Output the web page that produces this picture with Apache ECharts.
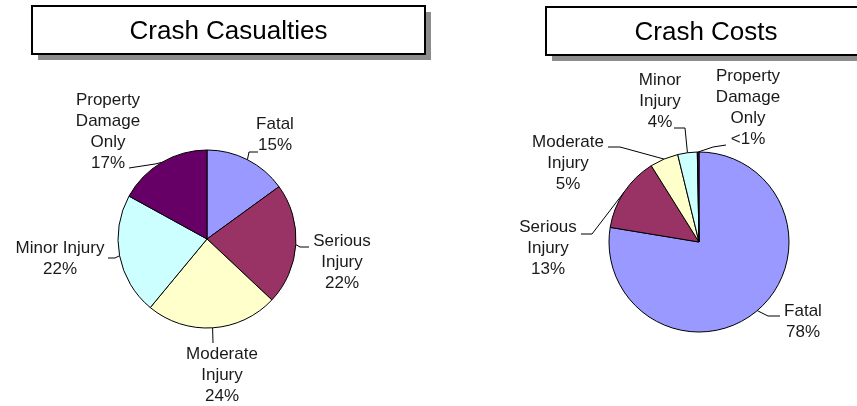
<!DOCTYPE html>
<html>
<head>
<meta charset="utf-8">
<script src="https://cdn.jsdelivr.net/npm/echarts@6/dist/echarts.min.js"></script>
<style>
  html, body { margin: 0; padding: 0; background: #fff; }
  #main { width: 857px; height: 406px; }
</style>
</head>
<body>
<div id="main"></div>
<script>
// 饼图数据
var casualtyLabels = ['Fatal', 'Serious\nInjury', 'Moderate\nInjury', 'Minor Injury', 'Property\nDamage\nOnly'];
var casualtyValues = [15, 22, 24, 22, 17];
var casualtyPct = ['15%', '22%', '24%', '22%', '17%'];

var costLabels = ['Fatal', 'Serious\nInjury', 'Moderate\nInjury', 'Minor\nInjury', 'Property\nDamage\nOnly'];
var costValues = [77.6, 13.5, 5.1, 3.5, 0.3];
var costPct = ['78%', '13%', '5%', '4%', '<1%'];

var sliceColors = ['#9999ff', '#993366', '#ffffcc', '#ccffff', '#660066'];
var font = 'Arial, "Liberation Sans", sans-serif';

// 标签位置 (相对饼心): 文字中心, 引导线折点
var casualtyLabelPos = [
    {c: [68, -104], line: [[42, -87], [51, -87]]},
    {c: [135, 23], line: [[93, 8], [102, 8]]},
    {c: [15, 136], line: [[6, 104]]},
    {c: [-147, 20], line: [[-92, 19], [-99, 19]]},
    {c: [-99, -107], line: [[-52, -75], [-78, -71]]}
];
var costLabelPos = [
    {c: [104, 80], line: [[69, 74], [81, 74]]},
    {c: [-151, 6], line: [[-107, -8], [-118, -8]]},
    {c: [-131, -79], line: [[-79, -95], [-91, -95]]},
    {c: [-39, -141], line: [[-14, -114], [-25, -114]]},
    {c: [49, -134], line: [[14, -95], [27, -97]]}
];

function buildData(labels, values, pct) {
    return values.map(function (v, i) {
        return {name: labels[i], value: v, pct: pct[i], itemStyle: {color: sliceColors[i]}};
    });
}

function titleBox(x, y, w, h, text) {
    return {
        type: 'group',
        children: [
            {type: 'rect', shape: {x: x + 6, y: y + 6, width: w, height: h}, style: {fill: '#8c8c8c'}},
            {type: 'rect', shape: {x: x, y: y, width: w, height: h}, style: {fill: '#fff', stroke: '#000', lineWidth: 2}},
            {type: 'text', x: x + w / 2, y: y + h / 2 + 2, style: {text: text, font: '26px ' + font, fill: '#000', align: 'center', verticalAlign: 'middle'}}
        ]
    };
}

function pieSeries(center, radius, labels, values, pct, pos) {
    return {
        type: 'pie',
        center: center,
        radius: radius,
        startAngle: 90,
        clockwise: true,
        animation: false,
        avoidLabelOverlap: false,
        data: buildData(labels, values, pct),
        itemStyle: {borderColor: '#000', borderWidth: 1},
        emphasis: {disabled: true},
        label: {
            show: true,
            position: 'outside',
            fontFamily: font,
            fontSize: 17,
            lineHeight: 21,
            color: '#1a1a1a',
            align: 'center',
            formatter: function (p) { return p.name + '\n' + p.data.pct; }
        },
        labelLine: {show: true, length: 8, length2: 12, lineStyle: {color: '#000', width: 1}},
        labelLayout: function (params) {
            var p = pos[params.dataIndex];
            var edge = params.labelLinePoints ? params.labelLinePoints[0] : [center[0], center[1]];
            var pts = [edge].concat(p.line.map(function (q) { return [center[0] + q[0], center[1] + q[1]]; }));
            return {
                x: center[0] + p.c[0],
                y: center[1] + p.c[1],
                align: 'center',
                verticalAlign: 'middle',
                hideOverlap: false,
                moveOverlap: null,
                labelLinePoints: pts
            };
        }
    };
}

var chart = echarts.init(document.getElementById('main'), null, {renderer: 'canvas'});
chart.setOption({
    backgroundColor: '#fff',
    graphic: [
        titleBox(32, 6, 393, 48, 'Crash Casualties'),
        titleBox(546, 7, 320, 48, 'Crash Costs')
    ],
    series: [
        pieSeries([207, 239], 89, casualtyLabels, casualtyValues, casualtyPct, casualtyLabelPos),
        pieSeries([699, 242], 90, costLabels, costValues, costPct, costLabelPos)
    ]
});
</script>
</body>
</html>
